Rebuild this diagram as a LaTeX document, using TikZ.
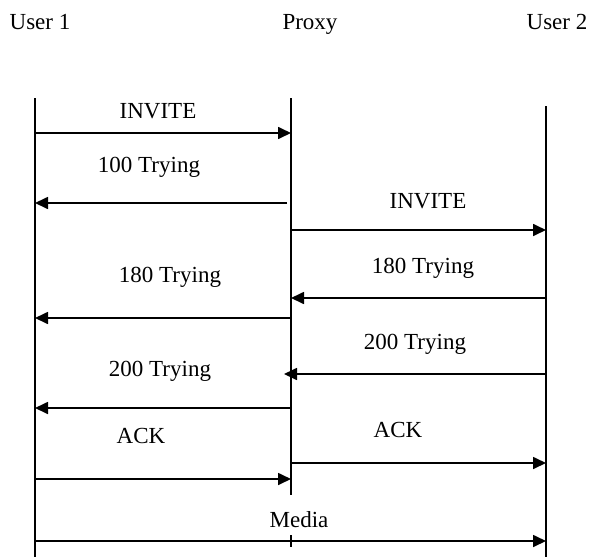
\documentclass[tikz,border=0pt]{standalone}
\usepackage{fontspec}
\setmainfont{Liberation Serif}
\usetikzlibrary{arrows.meta}
\begin{document}
\begin{tikzpicture}[x=1pt,y=-1pt,
  lifeline/.style={line width=1.8pt, black},
  msg/.style={line width=1.7pt, black, -{Triangle[length=13pt,width=12pt]}},
  lbl/.style={font=\fontsize{23}{27}\selectfont, inner sep=0pt, anchor=base, text=black},
]
\useasboundingbox (0,0) rectangle (591,557);
% headers
\node[lbl] (h1) at (40,29) {User 1};
\node[lbl] (h2) at (310,29) {Proxy};
\node[lbl] (h3) at (557,29) {User 2};
% lifelines
\coordinate (u1t) at (35,98);  \coordinate (u1b) at (35,557);
\coordinate (pt)  at (291,98); \coordinate (pb)  at (291,495);
\coordinate (u2t) at (546,106); \coordinate (u2b) at (546,557);
\draw[lifeline] (u1t) -- (u1b);
\draw[lifeline] (pt) -- (pb);
\draw[lifeline] (u2t) -- (u2b);
% message end points
\coordinate (a1) at (35,133);  \coordinate (b1) at (291,133);
\coordinate (a2) at (287,203); \coordinate (b2) at (35,203);
\coordinate (a3) at (291,230); \coordinate (b3) at (546,230);
\coordinate (a4) at (546,298); \coordinate (b4) at (291,298);
\coordinate (a5) at (291,318); \coordinate (b5) at (35,318);
\coordinate (a6) at (546,374); \coordinate (b6) at (284,374);
\coordinate (a7) at (291,408); \coordinate (b7) at (35,408);
\coordinate (a8) at (291,463); \coordinate (b8) at (546,463);
\coordinate (a9) at (35,479);  \coordinate (b9) at (291,479);
\coordinate (a10) at (35,541); \coordinate (b10) at (546,541);
\coordinate (tk1) at (291,535); \coordinate (tk2) at (291,547);
% messages
\draw[msg] (a1) -- (b1);
\draw[msg] (a2) -- (b2);
\draw[msg] (a3) -- (b3);
\draw[msg] (a4) -- (b4);
\draw[msg] (a5) -- (b5);
\draw[msg] (a6) -- (b6);
\draw[msg] (a7) -- (b7);
\draw[msg] (a8) -- (b8);
\draw[msg] (a9) -- (b9);
\draw[msg] (a10) -- (b10);
\draw[lifeline] (tk1) -- (tk2);
% labels
\node[lbl] (l1) at (158,118) {INVITE};
\node[lbl] (l2) at (149,172) {100 Trying};
\node[lbl] (l3) at (428,208) {INVITE};
\node[lbl] (l4) at (423,273) {180 Trying};
\node[lbl] (l5) at (170,282) {180 Trying};
\node[lbl] (l6) at (415,349) {200 Trying};
\node[lbl] (l7) at (160,376) {200 Trying};
\node[lbl] (l8) at (398,437) {ACK};
\node[lbl] (l9) at (141,443) {ACK};
\node[lbl] (l10) at (299,527) {Media};
\end{tikzpicture}
\end{document}
